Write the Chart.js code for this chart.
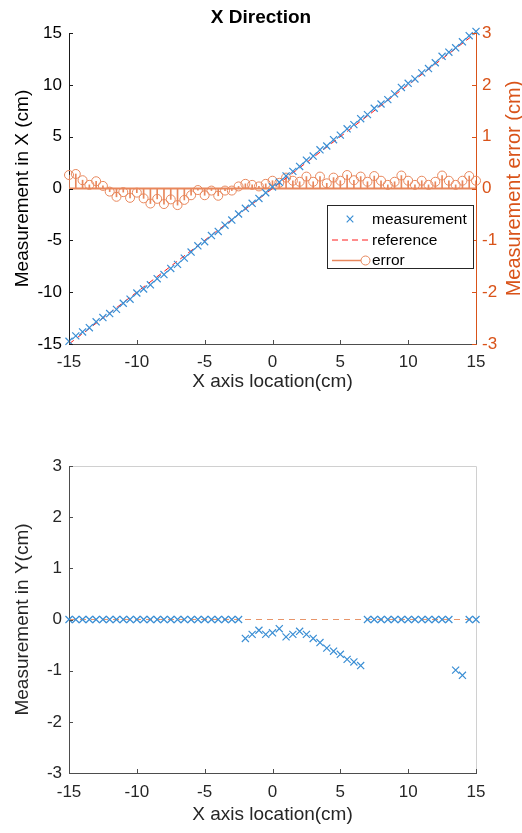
<!DOCTYPE html>
<html><head><meta charset="utf-8">
<script src="https://cdn.jsdelivr.net/npm/chart.js@4/dist/chart.umd.min.js"></script>
<style>
html,body{margin:0;padding:0;background:#fff;}
.wrap{position:absolute;left:0;width:522px;}
#w1{top:0;height:400px;}
#w2{top:400px;height:433px;}
canvas{display:block;}
</style></head><body>
<div class="wrap" id="w1"><canvas id="c1" width="522" height="400"></canvas></div>
<div class="wrap" id="w2"><canvas id="c2" width="522" height="433"></canvas></div>
<script>
// ---------- data ----------
const xLocation = [-15,-14.5,-14,-13.5,-13,-12.5,-12,-11.5,-11,-10.5,-10,-9.5,-9,-8.5,-8,-7.5,-7,-6.5,-6,-5.5,-5,-4.5,-4,-3.5,-3,-2.5,-2,-1.5,-1,-0.5,0,0.5,1,1.5,2,2.5,3,3.5,4,4.5,5,5.5,6,6.5,7,7.5,8,8.5,9,9.5,10,10.5,11,11.5,12,12.5,13,13.5,14,14.5,15];
const errorX = [0.26,0.28,0.16,0.07,0.14,0.05,-0.06,-0.16,-0.07,-0.18,-0.08,-0.19,-0.29,-0.20,-0.30,-0.21,-0.32,-0.22,-0.13,-0.03,-0.13,-0.04,-0.14,-0.04,-0.04,0.04,0.09,0.07,0.04,0.09,0.15,0.11,0.21,0.15,0.13,0.23,0.13,0.23,0.10,0.21,0.15,0.26,0.16,0.23,0.13,0.24,0.15,0.07,0.13,0.25,0.15,0.07,0.15,0.07,0.13,0.25,0.15,0.07,0.15,0.24,0.15];
const measurementX = [-14.74,-14.22,-13.84,-13.43,-12.86,-12.45,-12.06,-11.66,-11.07,-10.68,-10.08,-9.69,-9.29,-8.70,-8.30,-7.71,-7.32,-6.72,-6.13,-5.53,-5.13,-4.54,-4.14,-3.54,-3.04,-2.46,-1.91,-1.43,-0.96,-0.41,0.15,0.61,1.21,1.65,2.13,2.73,3.13,3.73,4.10,4.71,5.15,5.76,6.16,6.73,7.13,7.74,8.15,8.57,9.13,9.75,10.15,10.57,11.15,11.57,12.13,12.75,13.15,13.57,14.15,14.74,15.15];
const referenceXLoc = [-15, 15];
const referenceXVal = [-15, 15];
const measurementY = [0,0,0,0,0,0,0,0,0,0,0,0,0,0,0,0,0,0,0,0,0,0,0,0,0,0,-0.37,-0.29,-0.21,-0.29,-0.26,-0.18,-0.34,-0.29,-0.23,-0.29,-0.37,-0.45,-0.56,-0.62,-0.68,-0.78,-0.83,-0.90,0,0,0,0,0,0,0,0,0,0,0,0,0,-0.99,-1.09,0,0];
const referenceYLoc = [-15, 15];
const referenceYVal = [0, 0];
const xTickStep = 5, yTickStepX = 5, errTickStep = 1, yTickStepY = 1;
const labels = {
  title: 'X Direction',
  xAxis: 'X axis location(cm)',
  yAxisX: 'Measurement in X (cm)',
  yAxisErr: 'Measurement error (cm)',
  yAxisY: 'Measurement in Y(cm)',
  legendTop: ['measurement','reference','error'],
  legendBottom: ['measurement','reference']
};

// ---------- styles ----------
const FONT = "'Liberation Sans', Arial, Helvetica, sans-serif";
Chart.defaults.font.family = FONT;
const BLUE = '#3a8ed4', RED = '#ff1a1a', ORANGE = '#D95319', ORANGE_L = '#e8875c', DARK = '#262626', AXIS = '#4d4d4d';

function pts(xs, ys){ return xs.map((x,i)=>({x:x, y:ys[i]})); }

const inwardTicks = {
  id:'inwardTicks',
  afterDraw(chart, args, opts){
    const ctx = chart.ctx, a = chart.chartArea;
    ctx.save(); ctx.lineWidth = 1;
    (opts.axes||[]).forEach(ax=>{
      const s = chart.scales[ax.id];
      ctx.strokeStyle = ax.color;
      s.ticks.forEach(t=>{
        const p = Math.round(s.getPixelForValue(t.value)) + 0.5;
        ctx.beginPath();
        if (ax.side==='bottom'){ ctx.moveTo(p, a.bottom); ctx.lineTo(p, a.bottom-4); }
        else if (ax.side==='left'){ ctx.moveTo(a.left, p); ctx.lineTo(a.left+4, p); }
        else { ctx.moveTo(a.right, p); ctx.lineTo(a.right-4, p); }
        ctx.stroke();
      });
    });
    ctx.restore();
  }
};

function drawCross(ctx, x, y, r, color){
  ctx.save(); ctx.strokeStyle = color; ctx.lineWidth = 1.2;
  ctx.beginPath(); ctx.moveTo(x-r,y-r); ctx.lineTo(x+r,y+r); ctx.moveTo(x+r,y-r); ctx.lineTo(x-r,y+r); ctx.stroke();
  ctx.restore();
}

const boxLegend = {
  id:'boxLegend',
  afterDraw(chart, args, o){
    const ctx = chart.ctx;
    ctx.save();
    ctx.fillStyle = '#fff';
    ctx.fillRect(o.x, o.y, o.w, o.h);
    ctx.strokeStyle = '#262626'; ctx.lineWidth = 1;
    ctx.strokeRect(o.x+0.5, o.y+0.5, o.w, o.h);
    ctx.font = '15.5px ' + FONT; ctx.textBaseline = 'middle'; ctx.fillStyle = '#000';
    o.items.forEach((it,i)=>{
      const y = o.y + o.first + i*o.gap;
      if (it.kind==='cross') drawCross(ctx, o.x + o.iconC, y, 3.3, it.color);
      else if (it.kind==='dash'){
        ctx.save(); ctx.strokeStyle = it.color; ctx.lineWidth = 1; ctx.setLineDash(it.dash);
        ctx.beginPath(); ctx.moveTo(o.x+o.iconL, y+0.5); ctx.lineTo(o.x+o.iconR, y+0.5); ctx.stroke(); ctx.restore();
      } else if (it.kind==='stem'){
        ctx.save(); ctx.strokeStyle = it.color; ctx.lineWidth = 1.5;
        ctx.beginPath(); ctx.moveTo(o.x+o.iconL, y+0.5); ctx.lineTo(o.x+o.iconR-9, y+0.5); ctx.stroke();
        ctx.lineWidth = 1; ctx.beginPath(); ctx.arc(o.x+o.iconR-4.5, y+0.5, 4.5, 0, Math.PI*2); ctx.stroke(); ctx.restore();
      }
      ctx.fillText(it.text, o.x + o.textX, y+1);
    });
    ctx.restore();
  }
};

const rightTitle = {
  id:'rightTitle',
  afterDraw(chart, args, o){
    const ctx = chart.ctx, a = chart.chartArea;
    ctx.save();
    ctx.translate(o.x, (a.top+a.bottom)/2);
    ctx.rotate(-Math.PI/2);
    ctx.font = o.size + 'px ' + FONT; ctx.fillStyle = o.color;
    ctx.textAlign = 'center'; ctx.textBaseline = 'middle';
    ctx.fillText(o.text, 0, 0);
    ctx.restore();
  }
};

const boxLines = {
  id:'boxLines',
  beforeDatasetsDraw(chart, args, o){
    const ctx = chart.ctx, a = chart.chartArea;
    ctx.save(); ctx.strokeStyle = o.color; ctx.lineWidth = 1;
    ctx.beginPath();
    ctx.moveTo(a.left, a.top+0.5); ctx.lineTo(a.right+0.5, a.top+0.5); ctx.lineTo(a.right+0.5, a.bottom);
    ctx.stroke(); ctx.restore();
  }
};

// ---------- top chart ----------
new Chart(document.getElementById('c1'), {
  type:'line',
  data:{ datasets:[
    { label:labels.legendTop[0], data:pts(xLocation, measurementX), showLine:false, pointStyle:'crossRot', pointRadius:5, pointBorderColor:BLUE, pointBorderWidth:1.2, borderColor:BLUE, yAxisID:'y', order:0, clip:false },
    { label:labels.legendTop[1], data:pts(referenceXLoc, referenceXVal), borderColor:RED, borderWidth:1, borderDash:[6,4], pointRadius:0, yAxisID:'y', order:1 },
    { label:labels.legendTop[2], type:'bar', data:xLocation.map((x,i)=>({x:x, y:[0, errorX[i]]})), backgroundColor:ORANGE_L, borderWidth:0, barThickness:1, grouped:false, yAxisID:'y1', order:4 },
    { label:'baseline', data:pts(referenceXLoc, [0,0]), borderColor:ORANGE_L, borderWidth:2, pointRadius:0, yAxisID:'y1', order:5 },
    { label:'errmark', data:pts(xLocation, errorX), showLine:false, pointStyle:'circle', pointRadius:4.5, pointBorderColor:ORANGE_L, pointBackgroundColor:'rgba(0,0,0,0)', pointBorderWidth:1, yAxisID:'y1', order:3, clip:false }
  ]},
  options:{
    responsive:false, animation:false, events:[],
    layout:{ padding:0 },
    scales:{
      x:{ type:'linear', min:-15, max:15, offset:false,
        ticks:{ stepSize:xTickStep, color:DARK, font:{size:17}, padding:8, maxRotation:0 },
        grid:{ display:false, drawTicks:false }, border:{ color:AXIS, width:1 },
        title:{ display:true, text:labels.xAxis, color:DARK, font:{size:19}, padding:{top:0,bottom:6.6} },
        afterFit(s){ s.height = 56; s.paddingLeft = 0; s.paddingRight = 0; } },
      y:{ type:'linear', position:'left', min:-15, max:15,
        ticks:{ stepSize:yTickStepX, color:'#000', font:{size:17}, padding:7 },
        grid:{ display:false, drawTicks:false }, border:{ color:'#1a1a1a', width:1 },
        title:{ display:true, text:labels.yAxisX, color:'#000', font:{size:19}, padding:{top:11.6,bottom:0} },
        afterFit(s){ s.width = 69; s.paddingTop = 0; s.paddingBottom = 0; } },
      y1:{ type:'linear', position:'right', min:-3, max:3,
        ticks:{ stepSize:errTickStep, color:ORANGE, font:{size:17}, padding:6 },
        grid:{ display:false, drawTicks:false }, border:{ color:ORANGE, width:1 },
        afterFit(s){ s.width = 46; s.paddingTop = 0; s.paddingBottom = 0; } }
    },
    plugins:{
      legend:{ display:false }, tooltip:{ enabled:false },
      title:{ display:true, text:labels.title, color:'#000', font:{size:19, weight:'bold'}, padding:{top:6.6, bottom:3.6} },
      inwardTicks:{ axes:[{id:'x',side:'bottom',color:AXIS},{id:'y',side:'left',color:'#1a1a1a'},{id:'y1',side:'right',color:ORANGE}] },
      rightTitle:{ text:labels.yAxisErr, x:514, size:20, color:ORANGE },
      boxLegend:{ x:327, y:205, w:146, h:63, first:14, gap:20.5, iconC:23, iconL:5, iconR:43, textX:45,
        items:[ {kind:'cross', color:BLUE, text:labels.legendTop[0]}, {kind:'dash', color:RED, dash:[6,4], text:labels.legendTop[1]}, {kind:'stem', color:ORANGE_L, text:labels.legendTop[2]} ] }
    }
  },
  plugins:[inwardTicks, boxLegend, rightTitle]
});

// ---------- bottom chart ----------
new Chart(document.getElementById('c2'), {
  type:'line',
  data:{ datasets:[
    { label:labels.legendBottom[0], data:pts(xLocation, measurementY), showLine:false, pointStyle:'crossRot', pointRadius:5, pointBorderColor:BLUE, pointBorderWidth:1.2, borderColor:BLUE, order:0, clip:false },
    { label:labels.legendBottom[1], data:pts(referenceYLoc, referenceYVal), borderColor:'#e8956a', borderWidth:1, borderDash:[6,5], pointRadius:0, order:1 }
  ]},
  options:{
    responsive:false, animation:false, events:[],
    layout:{ padding:{ top:66, right:46, left:0, bottom:0 } },
    scales:{
      x:{ type:'linear', min:-15, max:15, offset:false,
        ticks:{ stepSize:xTickStep, color:DARK, font:{size:17}, padding:9, maxRotation:0 },
        grid:{ display:false, drawTicks:false }, border:{ color:AXIS, width:1 },
        title:{ display:true, text:labels.xAxis, color:DARK, font:{size:19}, padding:{top:0,bottom:6.6} },
        afterFit(s){ s.height = 60; s.paddingLeft = 0; s.paddingRight = 0; } },
      y:{ type:'linear', position:'left', min:-3, max:3,
        ticks:{ stepSize:yTickStepY, color:DARK, font:{size:17}, padding:7 },
        grid:{ display:false, drawTicks:false }, border:{ color:AXIS, width:1 },
        title:{ display:true, text:labels.yAxisY, color:DARK, font:{size:19}, padding:{top:11.6,bottom:0} },
        afterFit(s){ s.width = 69; s.paddingTop = 0; s.paddingBottom = 0; } }
    },
    plugins:{
      legend:{ display:false }, tooltip:{ enabled:false },
      boxLines:{ color:'#d0d0d0' },
      inwardTicks:{ axes:[{id:'x',side:'bottom',color:AXIS},{id:'y',side:'left',color:AXIS}] },
      boxLegend:{ x:308, y:479, w:158, h:43, first:11, gap:21, iconC:14, iconL:4, iconR:42, textX:50,
        items:[ {kind:'cross', color:BLUE, text:labels.legendBottom[0]}, {kind:'dash', color:'#e8956a', dash:[6,5], text:labels.legendBottom[1]} ] }
    }
  },
  plugins:[boxLines, inwardTicks, boxLegend]
});
</script>
</body></html>
